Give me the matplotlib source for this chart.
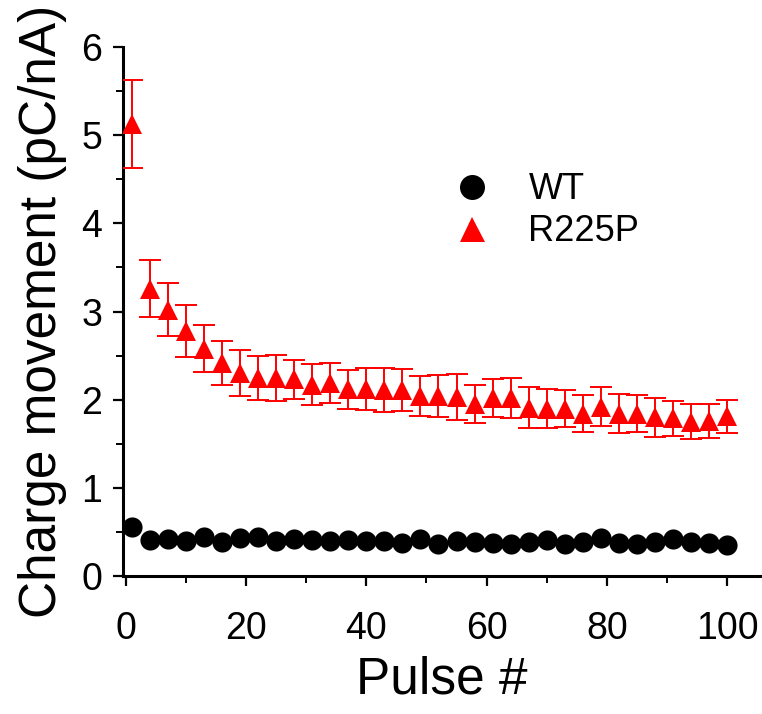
import numpy as np
import matplotlib.pyplot as plt
from matplotlib.lines import Line2D
from matplotlib.ticker import MultipleLocator

plt.rcParams["font.family"] = ["Liberation Sans", "DejaVu Sans"]

pulse = np.arange(1, 101, 3)

wt = [0.56, 0.41, 0.42, 0.40, 0.44, 0.39, 0.43, 0.44, 0.40, 0.42, 0.41,
      0.40, 0.41, 0.40, 0.40, 0.37, 0.42, 0.36, 0.40, 0.39, 0.37, 0.36,
      0.38, 0.41, 0.36, 0.39, 0.43, 0.37, 0.36, 0.38, 0.42, 0.39, 0.37, 0.35]

r225p = [5.13, 3.26, 3.02, 2.78, 2.58, 2.42, 2.30, 2.25, 2.25, 2.23, 2.17,
         2.19, 2.12, 2.12, 2.11, 2.11, 2.04, 2.04, 2.03, 1.95, 2.02, 2.02,
         1.91, 1.90, 1.90, 1.84, 1.92, 1.84, 1.84, 1.80, 1.79, 1.75, 1.76, 1.81]
r225p_err = [0.50, 0.32, 0.30, 0.29, 0.27, 0.25, 0.26, 0.25, 0.26, 0.22, 0.23,
             0.23, 0.22, 0.24, 0.25, 0.24, 0.23, 0.24, 0.26, 0.22, 0.22, 0.23,
             0.23, 0.22, 0.21, 0.21, 0.22, 0.22, 0.21, 0.22, 0.20, 0.20, 0.19, 0.19]

fig = plt.figure(figsize=(7.62, 7.14), dpi=100)
ax = fig.add_axes([0.1614, 0.1933, 0.836, 0.7407])

markers, caps, bars = ax.errorbar(
    pulse, r225p, yerr=r225p_err, fmt="^", color="red", ecolor="red",
    markersize=14, elinewidth=1.4, capsize=8, capthick=1.4, zorder=3)
markers.set_markeredgewidth(0)
ax.plot(pulse, wt, "o", color="black", markersize=14.5, markeredgewidth=0,
        zorder=4)

ax.set_xlim(-0.5, 105.5)
ax.set_ylim(0, 6)
ax.xaxis.set_major_locator(MultipleLocator(20))
ax.xaxis.set_minor_locator(MultipleLocator(10))
ax.yaxis.set_major_locator(MultipleLocator(1))
ax.yaxis.set_minor_locator(MultipleLocator(0.5))

for side in ("top", "right"):
    ax.spines[side].set_visible(False)
for side in ("left", "bottom"):
    ax.spines[side].set_linewidth(2.2)

ax.tick_params(which="major", direction="out", length=7, width=1.6,
               labelsize=27, pad=8)
ax.tick_params(axis="x", which="major", pad=18)
ax.tick_params(which="minor", direction="out", length=5, width=1.4)

ax.set_xlabel("Pulse #", fontsize=37, labelpad=6)
ax.set_ylabel("Charge movement (pC/nA)", fontsize=37, labelpad=10)

handles = [
    Line2D([], [], marker="o", color="black", linestyle="none",
           markersize=18, markeredgewidth=0),
    Line2D([], [], marker="^", color="red", linestyle="none",
           markersize=18, markeredgewidth=0),
]
ax.legend(handles, ["WT", "R225P"], loc="upper left",
          bbox_to_anchor=(0.455, 0.825), frameon=False, fontsize=26,
          handletextpad=0.8, labelspacing=0.2, handlelength=1.5)

fig.savefig("out.png", dpi=100)
